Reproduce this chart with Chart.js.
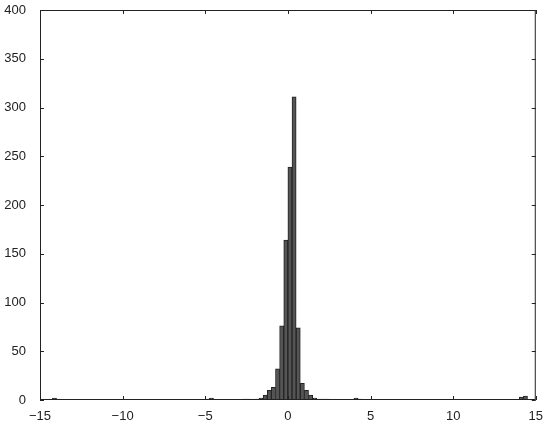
<!DOCTYPE html>
<html>
<head>
<meta charset="utf-8">
<script src="https://cdn.jsdelivr.net/npm/chart.js@4.4.0/dist/chart.umd.min.js"></script>
<style>
  html, body { margin: 0; padding: 0; background: #fff; }
  #wrap { width: 544px; height: 423px; }
</style>
</head>
<body>
<div id="wrap"><canvas id="histChart"></canvas></div>
<script>
// bin centres (bin width 0.25) and counts
const binCenters = [
  -14.125, -13.875, -4.875, -4.625, -2.625, -2.375, -1.875,
  -1.625, -1.375, -1.125, -0.875, -0.625, -0.375, -0.125,
  0.125, 0.375, 0.625, 0.875, 1.125, 1.375, 1.625, 1.875,
  2.125, 2.375, 4.125, 4.375, 14.125, 14.375
];
const counts = [
  2, 1, 1, 2, 1, 1, 1,
  2, 5, 10, 13, 32, 76, 164,
  239, 311, 74, 17, 10, 5, 2, 1,
  1, 1, 2, 1, 3, 4
];
const xTicks = [-15, -10, -5, 0, 5, 10, 15];
const yTicks = [0, 50, 100, 150, 200, 250, 300, 350, 400];

const points = binCenters.map((c, i) => ({ x: c, y: counts[i] }));

const axisColor = '#222';
const fontSpec = { family: '"Liberation Sans", Arial, sans-serif', size: 13 };

// MATLAB style box with inward ticks
const boxPlugin = {
  id: 'boxPlugin',
  afterDraw(chart) {
    const { ctx, chartArea: a, scales } = chart;
    ctx.save();
    ctx.strokeStyle = axisColor;
    ctx.lineWidth = 1;
    ctx.strokeRect(a.left + 0.5, a.top + 0.5, a.right - a.left - 1, a.bottom - a.top - 1);
    ctx.beginPath();
    yTicks.forEach(v => {
      const y = Math.round(scales.y.getPixelForValue(v)) + 0.5;
      ctx.moveTo(a.left, y); ctx.lineTo(a.left + 4, y);
      ctx.moveTo(a.right, y); ctx.lineTo(a.right - 4, y);
    });
    xTicks.forEach(v => {
      const x = Math.round(scales.x.getPixelForValue(v)) + 0.5;
      ctx.moveTo(x, a.bottom); ctx.lineTo(x, a.bottom - 4);
      ctx.moveTo(x, a.top); ctx.lineTo(x, a.top + 4);
    });
    ctx.stroke();
    ctx.restore();
  }
};

new Chart(document.getElementById('histChart'), {
  type: 'bar',
  data: {
    datasets: [{
      data: points,
      backgroundColor: '#555',
      borderColor: '#222',
      borderWidth: 1,
      borderSkipped: false,
      barPercentage: 1,
      categoryPercentage: 1
    }]
  },
  options: {
    responsive: true,
    maintainAspectRatio: false,
    animation: false,
    layout: { padding: { top: 10, right: 8, left: 0, bottom: 2 } },
    plugins: {
      legend: { display: false },
      tooltip: { enabled: false }
    },
    scales: {
      x: {
        type: 'linear',
        min: -15,
        max: 15,
        offset: false,
        grid: { display: false },
        border: { display: false },
        afterBuildTicks: s => { s.ticks = xTicks.map(v => ({ value: v })); },
        afterFit: s => { s.height = 21; },
        ticks: {
          color: axisColor,
          font: fontSpec,
          padding: 1,
          maxRotation: 0,
          callback: v => String(v).replace('-', '\u2212')
        }
      },
      y: {
        min: 0,
        max: 400,
        grid: { display: false },
        border: { display: false },
        afterBuildTicks: s => { s.ticks = yTicks.map(v => ({ value: v })); },
        afterFit: s => { s.width = 40; s.paddingTop = 0; s.paddingBottom = 0; },
        ticks: {
          color: axisColor,
          font: fontSpec,
          padding: 6
        }
      }
    }
  },
  plugins: [boxPlugin]
});
</script>
</body>
</html>
